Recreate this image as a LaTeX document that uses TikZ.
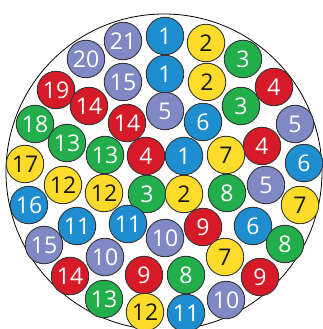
\documentclass[tikz,border=0pt]{standalone}
\usepackage{fontspec}
\setmainfont{Open Sans}
\definecolor{cblue}{HTML}{1E8ED0}
\definecolor{cyellow}{HTML}{FDDB2B}
\definecolor{cgreen}{HTML}{22AE4B}
\definecolor{cred}{HTML}{D61A27}
\definecolor{clav}{HTML}{8189C4}
\definecolor{cedge}{HTML}{333333}
\tikzset{
  ball/.style={circle, draw=cedge, line width=0.9pt, minimum size=37.5pt, inner sep=0pt,
    font=\fontsize{23}{23}\selectfont, text=white},
  B/.style={ball, fill=cblue},
  Y/.style={ball, fill=cyellow, text=black!90},
  G/.style={ball, fill=cgreen},
  R/.style={ball, fill=cred},
  L/.style={ball, fill=clav},
}
\begin{document}
\begin{tikzpicture}[x=1pt,y=-1pt]
\useasboundingbox (0,0) rectangle (323,329);
\fill[white] (0,0) rectangle (323,329);
\node[circle, draw=black, line width=0.8pt, minimum size=316pt, inner sep=0pt] (big) at (164,172) {};
\node[L] (n1) at (123,41) {21};
\node[B] (n2) at (165,36) {1};
\node[Y] (n3) at (206,43) {2};
\node[G] (n4) at (243,59) {3};
\node[L] (n5) at (86,59) {20};
\node[R] (n6) at (56,90) {19};
\node[L] (n7) at (123,82) {15};
\node[B] (n8) at (165,74) {1};
\node[Y] (n9) at (207,82) {2};
\node[R] (n10) at (274,87) {4};
\node[R] (n11) at (89,106) {14};
\node[L] (n12) at (165,111) {5};
\node[G] (n13) at (241,106) {3};
\node[R] (n14) at (127,123) {14};
\node[B] (n15) at (203,122) {6};
\node[R] (n16) at (262,146) {4};
\node[L] (n17) at (295,124) {5};
\node[G] (n18) at (35,124) {18};
\node[G] (n19) at (67,143) {13};
\node[G] (n20) at (105,155) {13};
\node[R] (n21) at (146,156) {4};
\node[B] (n22) at (184,156) {1};
\node[Y] (n23) at (226,155) {7};
\node[B] (n24) at (304,163) {6};
\node[Y] (n25) at (25,164) {17};
\node[Y] (n26) at (63,185) {12};
\node[Y] (n27) at (104,193) {12};
\node[G] (n28) at (147,194) {3};
\node[Y] (n29) at (184,194) {2};
\node[G] (n30) at (227,193) {8};
\node[L] (n31) at (266,185) {5};
\node[Y] (n32) at (300,205) {7};
\node[B] (n33) at (29,205) {16};
\node[B] (n34) at (77,226) {11};
\node[B] (n35) at (128,224) {11};
\node[L] (n36) at (165,238) {10};
\node[R] (n37) at (203,227) {9};
\node[B] (n38) at (253,226) {6};
\node[G] (n39) at (285,244) {8};
\node[L] (n40) at (44,245) {15};
\node[L] (n41) at (105,257) {10};
\node[Y] (n42) at (225,257) {7};
\node[R] (n43) at (70,276) {14};
\node[R] (n44) at (144,275) {9};
\node[G] (n45) at (186,275) {8};
\node[R] (n46) at (260,277) {9};
\node[G] (n47) at (104,299) {13};
\node[Y] (n48) at (145,312) {12};
\node[B] (n49) at (186,313) {11};
\node[L] (n50) at (226,300) {10};
\end{tikzpicture}
\end{document}
